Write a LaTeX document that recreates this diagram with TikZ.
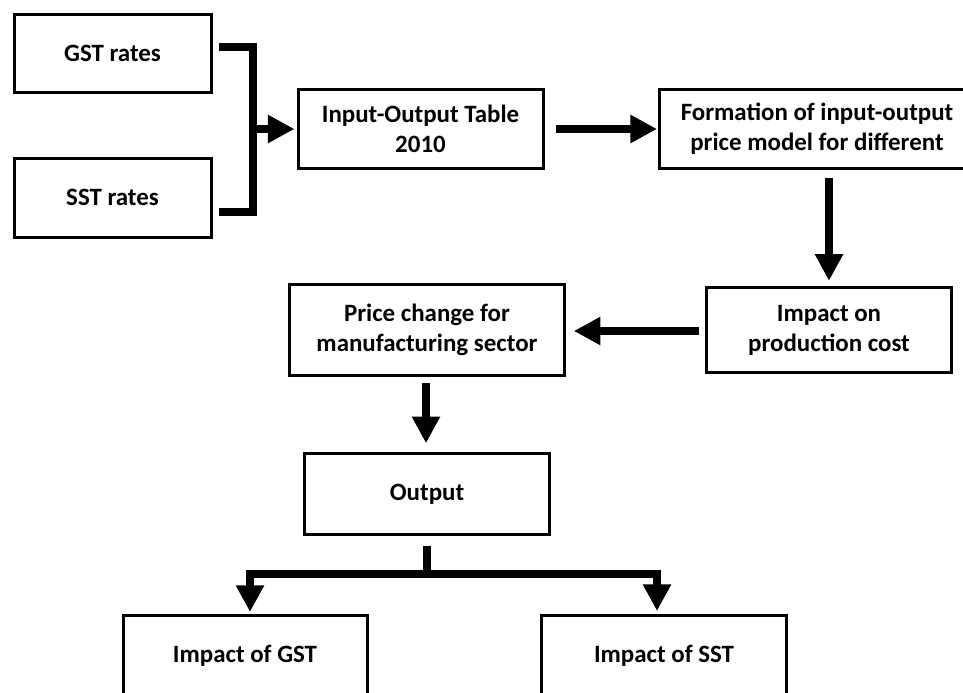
\documentclass[tikz,border=0pt]{standalone}
\usepackage{fontspec}
\setmainfont{Carlito}
\usetikzlibrary{arrows.meta,calc}
\begin{document}
\begin{tikzpicture}[x=0.75pt,y=-0.75pt,
  box/.style={draw=black, line width=2.25pt, fill=white, rectangle, align=center,
    inner sep=0pt, font=\bfseries\fontsize{18.7}{22.5}\selectfont},
  conn/.style={line width=6pt, line join=miter},
  arr/.style={conn, -{Triangle[length=20pt,width=20pt]}}]
\useasboundingbox (0,0) rectangle (963,692);
\clip (0,0) rectangle (963,692);
\node[box, minimum width=147.75pt, minimum height=58.9pt] (gst) at (112.5,53.7) {GST rates};
\node[box, minimum width=147.75pt, minimum height=59.25pt] (sst) at (112.5,197.5) {SST rates};
\node[box, minimum width=183.75pt, minimum height=59.25pt] (io) at (420.5,129) {Input-Output Table\\2010};
\node[box, minimum width=236.25pt, minimum height=59.25pt] (form) at (817,129) {Formation of input-output\\price model for different};
\node[box, minimum width=184.1pt, minimum height=64.1pt] (cost) at (829,330) {Impact on\\production cost};
\node[box, minimum width=205.9pt, minimum height=68.6pt] (price) at (427,330) {Price change for\\manufacturing sector};
\node[box, minimum width=183.75pt, minimum height=60.4pt] (out) at (427,494) {Output};
\node[box, minimum width=183pt, minimum height=60pt] (igst) at (245,655.5) {Impact of GST};
\node[box, minimum width=184.1pt, minimum height=60pt] (isst) at (664,655.5) {Impact of SST};

\coordinate (jg) at (219,47);
\coordinate (js) at (219,211.5);
\coordinate (jv) at (252.5,129);
\draw[conn] (jg) -| (jv) |- (js);
\draw[arr] (jv) -- ($(io.west)+(-2,0)$);
\draw[arr] ($(io.east)+(11,0)$) -- ($(form.west)+(-1,0)$);
\draw[arr] ($(cost.north |- form.south)+(0,8)$) -- ($(cost.north)+(0,-5)$);
\draw[arr] ($(cost.west)+(-6,1)$) -- ($(price.east)+(8,1)$);
\draw[arr] ($(price.south)+(-1,6)$) -- ($(out.north)+(-1,-9)$);
\coordinate (split) at ($(out.south)+(0,38.5)$);
\draw[conn] ($(out.south)+(0,10)$) -- (split);
\draw[arr] (split) -| ($(igst.north)+(5,-2)$);
\draw[arr] (split) -| ($(isst.north)+(-7,-3)$);
\end{tikzpicture}
\end{document}
